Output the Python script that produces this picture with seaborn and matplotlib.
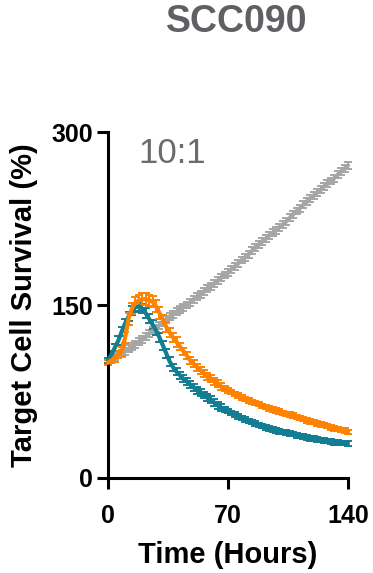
import numpy as np
import pandas as pd
import matplotlib
matplotlib.use("Agg")
import matplotlib.pyplot as plt
import seaborn as sns

time_h = list(range(0, 141, 2))

gray_mean = [100, 102, 104, 106, 108, 110, 112, 114, 116, 118, 120, 122.5, 125, 127.5, 130, 132.5,
             135, 137.5, 140, 142, 144, 146, 148, 150, 152.5, 155, 157, 159.5, 161.5, 164, 166, 168.5,
             171, 173.5, 176, 178, 181, 183.5, 186, 189, 191.5, 194, 197, 199.5, 202.5, 205, 207.5,
             210, 212.5, 215, 217.5, 220, 222.5, 225.5, 228.5, 231.5, 234, 237, 240, 242.5, 245,
             247.5, 250, 252.5, 255, 257.5, 260, 263, 265.5, 268.5, 271]
teal_mean = [102, 107, 113, 119, 127, 134, 140, 145, 148, 149, 147, 143, 138, 133, 128, 122, 115,
             108, 101, 96, 92, 89, 86, 83.5, 81, 78.5, 76, 74, 72, 70, 68, 65.5, 63, 61, 59.5, 58,
             56.5, 55, 53.5, 52, 50.5, 49.5, 48.5, 47, 46, 45, 44, 43, 42, 41, 40.5, 40, 39.5, 38.5,
             38, 37, 36.5, 36, 35, 34.5, 34, 33.5, 33, 32.5, 32, 31.5, 31, 30.8, 30.5, 30.2, 30]
orange_mean = [100, 102, 104, 107, 110, 122, 138, 147, 152, 154, 155, 155, 154, 153, 149, 143, 137,
               131, 126, 122, 118, 114, 110, 106, 102, 99, 96, 93.5, 91, 88, 86, 84, 82, 79.5, 77.5,
               76, 74.5, 73, 71.5, 70, 68.5, 67, 66, 65, 64, 62.5, 61.5, 60.5, 59.5, 58.5, 57.5, 56.5,
               55.5, 55, 54, 53, 52, 51, 50, 49, 48.5, 47.5, 46.5, 46, 45, 44, 43, 42.5, 41.5, 41, 40]

gray_err = [2, 2, 2, 2, 3, 3, 3, 3, 3, 3, 3, 3, 3, 3, 3, 3, 3, 3, 3, 3, 3, 3, 3, 3, 3, 3, 3, 3, 3, 3,
            3, 3, 3, 3, 3, 3, 3, 3, 3, 3, 3, 3, 3, 3, 3, 3, 3, 3, 3, 3, 3, 3, 3, 3, 3, 3, 3, 3, 3, 3,
            3, 3, 3, 3, 3, 3, 3, 3, 3, 3, 3]
teal_err = [2, 3, 3, 4, 4, 4, 4, 4, 4, 4, 4, 4, 4, 4, 4, 4, 4, 4, 4, 3, 3, 3, 3, 3, 3, 3, 3, 3, 3, 3,
            3, 3, 3, 3, 2, 2, 2, 2, 2, 2, 2, 2, 2, 2, 2, 2, 2, 2, 2, 2, 2, 2, 2, 2, 2, 2, 2, 2, 2, 2,
            2, 2, 2, 2, 2, 2, 2, 2, 2, 2, 2]
orange_err = [2, 2, 3, 3, 4, 5, 5, 5, 5, 5, 5, 5, 5, 5, 5, 5, 4, 4, 4, 4, 4, 3, 3, 3, 3, 3, 3, 3, 3,
              3, 3, 3, 3, 3, 2, 2, 2, 2, 2, 2, 2, 2, 2, 2, 2, 2, 2, 2, 2, 2, 2, 2, 2, 2, 2, 2, 2, 2,
              2, 2, 2, 2, 2, 2, 2, 2, 2, 2, 2, 2, 2]

series_names = ["Target only", "Effector A", "Effector B"]
colors = ["#a6a6a6", "#147d91", "#ff8200"]

sns.set_theme(style="ticks")
plt.rcParams['font.family'] = ['Liberation Sans', 'DejaVu Sans']
plt.rcParams['text.color'] = 'black'
plt.rcParams['axes.labelcolor'] = 'black'
plt.rcParams['xtick.color'] = 'black'
plt.rcParams['ytick.color'] = 'black'

frames = []
for name, m, e in zip(series_names, [gray_mean, teal_mean, orange_mean], [gray_err, teal_err, orange_err]):
    frames.append(pd.DataFrame({"time": time_h, "survival": m, "err": e, "group": name}))
df = pd.concat(frames, ignore_index=True)

fig = plt.figure(figsize=(3.73, 5.73), dpi=100)
ax = fig.add_axes([0.2895, 0.1658, 0.6435, 0.6038])

for name, c in zip(series_names, colors):
    sub = df[df.group == name]
    ax.errorbar(sub["time"], sub["survival"], yerr=sub["err"], fmt="none", ecolor=c,
                elinewidth=1.4, capsize=3, capthick=1.4, clip_on=False, zorder=2)

sns.lineplot(data=df, x="time", y="survival", hue="group", hue_order=series_names,
             palette=colors, linewidth=3.0, ax=ax, legend=False, sort=False, zorder=3)
for ln in ax.lines:
    ln.set_clip_on(False)

ax.set_xlim(0, 140)
ax.set_ylim(0, 300)
ax.set_xticks([0, 70, 140])
ax.set_yticks([0, 150, 300])
ax.tick_params(axis="both", length=8, width=2.2, labelsize=18, colors="black")
ax.tick_params(axis="x", pad=11)
ax.tick_params(axis="y", pad=3)
for lab in ax.get_xticklabels() + ax.get_yticklabels():
    lab.set_fontweight("bold")
for s in ["left", "bottom"]:
    ax.spines[s].set_linewidth(2.2)
    ax.spines[s].set_color("black")
sns.despine(ax=ax)

ax.set_xlabel("Time (Hours)", fontsize=21, fontweight="bold", labelpad=9, color="black")
ax.set_ylabel("Target Cell Survival (%)", fontsize=21, fontweight="bold", labelpad=9, color="black")

ax.text(0.125, 0.985, "10:1", transform=ax.transAxes, fontsize=25, color="#6b6b6e",
        ha="left", va="top")
fig.text(0.635, 0.962, "SCC090", fontsize=27, fontweight="bold", color="#606064",
         ha="center", va="center")

fig.savefig("out.png", dpi=100)
